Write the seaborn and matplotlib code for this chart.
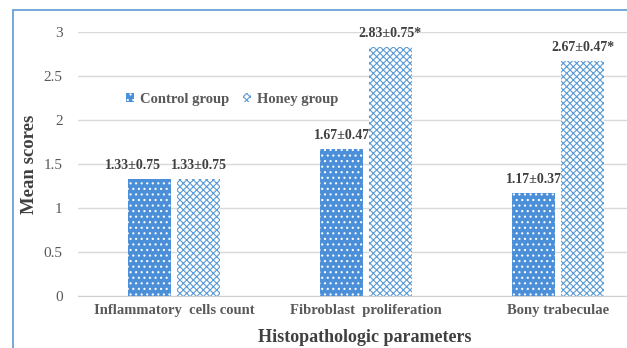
import numpy as np
import pandas as pd
import matplotlib
matplotlib.use("Agg")
import matplotlib.pyplot as plt
import seaborn as sns
from matplotlib.patches import Rectangle

# --- data ---
categories = ["Inflammatory  cells count", "Fibroblast  proliferation", "Bony trabeculae"]
groups = ["Control group", "Honey group"]
control_means = [1.33, 1.67, 1.17]
honey_means = [1.33, 2.83, 2.67]
control_labels = ["1.33\u00b10.75", "1.67\u00b10.47", "1.17\u00b10.37"]
honey_labels = ["1.33\u00b10.75", "2.83\u00b10.75*", "2.67\u00b10.47*"]
y_ticks = [0, 0.5, 1, 1.5, 2, 2.5, 3]

SERIF = "Liberation Serif"
DARK = "#404040"
GREY = "#595959"
BLUE = "#4a8fd8"
LIGHT_BLUE = "#5b9bd5"

df = pd.DataFrame({
    "category": categories * 2,
    "group": [groups[0]] * 3 + [groups[1]] * 3,
    "score": control_means + honey_means,
})

sns.set_style("white")
plt.rcParams["font.family"] = [SERIF, "DejaVu Serif"]
plt.rcParams["hatch.linewidth"] = 0.8

fig = plt.figure(figsize=(6.27, 3.48), dpi=100)
ax = fig.add_axes([0.1244, 0.1494, 0.9187, 0.7595])

sns.barplot(data=df, x="category", y="score", hue="group", order=categories,
            hue_order=groups, width=0.51, gap=0.12, ax=ax, errorbar=None,
            palette=[BLUE, "white"], linewidth=0, saturation=1)

# patterns: white dots on solid blue, blue lattice on white
for bar in ax.containers[0]:
    bar.set_facecolor(BLUE)
    bar.set_edgecolor("white")
    bar.set_hatch("...")
    bar.set_linewidth(0)
for bar in ax.containers[1]:
    bar.set_facecolor("white")
    bar.set_edgecolor(LIGHT_BLUE)
    bar.set_hatch("xxxxx")
    bar.set_linewidth(0)

# value labels above bars
for k, (cont, labels) in enumerate(zip(ax.containers, [control_labels, honey_labels])):
    for i, (bar, lab) in enumerate(zip(cont, labels)):
        dx = -12 if (k == 0 and i == 0) else 0
        ax.annotate(lab, (bar.get_x() + bar.get_width() / 2, bar.get_height()),
                    xytext=(dx, 5), textcoords="offset points", ha="center",
                    va="bottom", fontsize=10, fontweight="bold", color=DARK)

ax.set_ylim(0, 3)
ax.set_xlim(-0.5, 2.5)
ax.set_yticks(y_ticks)
ax.set_yticklabels([f"{t:g}" for t in y_ticks])
ax.yaxis.grid(True, color="#d9d9d9", linewidth=1)
ax.set_axisbelow(True)
for s in ["left", "right", "top"]:
    ax.spines[s].set_visible(False)
ax.spines["bottom"].set_color("#d0d0d0")
ax.tick_params(axis="y", length=0, pad=11, labelsize=11, labelcolor=GREY)
ax.tick_params(axis="x", length=0, pad=6, labelsize=10.5, labelcolor=GREY)
for t in ax.get_xticklabels():
    t.set_fontweight("bold")

ax.set_ylabel("Mean scores", fontsize=13.5, fontweight="bold", color=DARK)
ax.yaxis.set_label_coords(-0.07, 0.5)
ax.set_xlabel("Histopathologic parameters", fontsize=13, fontweight="bold", color=DARK)
ax.xaxis.set_label_coords((365 - 78) / 576, -0.125)

ax.get_legend().remove()
handles = [ax.containers[0][0], ax.containers[1][0]]
leg = ax.legend(handles, groups, loc="center left", bbox_to_anchor=(0.06, 0.745),
                ncol=2, frameon=False, handlelength=0.55, handleheight=0.55,
                handletextpad=0.4, columnspacing=1.0,
                prop={"family": SERIF, "weight": "bold", "size": 10.5})
for t in leg.get_texts():
    t.set_color(GREY)

# blue frame around the chart area (runs off the right/bottom edge)
fig.patches.append(Rectangle((13 / 627, -0.5), 1.5, 1 - 10 / 348 + 0.5,
                             transform=fig.transFigure, fill=False,
                             edgecolor=LIGHT_BLUE, linewidth=1.2, zorder=10))

fig.savefig("out.png", dpi=100)
